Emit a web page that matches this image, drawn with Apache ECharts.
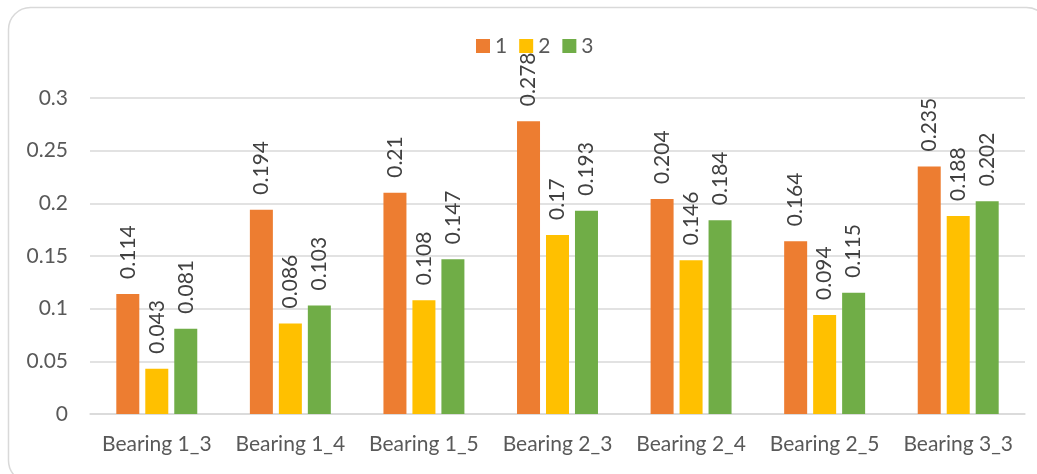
<!DOCTYPE html>
<html>
<head>
<meta charset="utf-8">
<script src="https://cdn.jsdelivr.net/npm/echarts@6/dist/echarts.min.js"></script>
<style>
  html, body { margin: 0; padding: 0; background: #fff; }
  #chart { width: 1037px; height: 474px; }
</style>
</head>
<body>
<div id="chart"></div>
<script>
// Bearing categories and the three measurement series
const categories = ['Bearing 1_3', 'Bearing 1_4', 'Bearing 1_5', 'Bearing 2_3', 'Bearing 2_4', 'Bearing 2_5', 'Bearing 3_3'];
const series1 = [0.114, 0.194, 0.21, 0.278, 0.204, 0.164, 0.235];
const series2 = [0.043, 0.086, 0.108, 0.17, 0.146, 0.094, 0.188];
const series3 = [0.081, 0.103, 0.147, 0.193, 0.184, 0.115, 0.202];
const seriesNames = ['1', '2', '3'];
const colors = ['#ED7D31', '#FFC000', '#70AD47'];

const font = 'Lato, Open Sans, sans-serif';
const fontSize = 21;

const chart = echarts.init(document.getElementById('chart'), null, { renderer: 'canvas' });

function barSeries(name, data, color) {
  return {
    name: name,
    type: 'bar',
    data: data,
    barWidth: 23,
    barGap: '26%',
    itemStyle: { color: color },
    label: {
      show: true,
      position: 'top',
      rotate: 90,
      align: 'left',
      verticalAlign: 'middle',
      distance: 15,
      color: '#404040',
      fontSize: fontSize,
      fontFamily: font,
      formatter: p => String(p.value)
    }
  };
}

chart.setOption({
  animation: false,
  color: colors,
  graphic: [{
    type: 'rect',
    shape: { x: 8.5, y: 7.5, width: 1040, height: 475, r: 22 },
    style: { fill: 'none', stroke: '#D9D9D9', lineWidth: 1.5 },
    silent: true,
    z: -1
  }],
  legend: {
    top: 35,
    left: 476,
    padding: 0,
    itemWidth: 14,
    itemHeight: 14,
    itemGap: 12,
    icon: 'rect',
    textStyle: { color: '#595959', fontSize: fontSize, fontFamily: font, lineHeight: 22 },
    data: seriesNames
  },
  grid: { left: 90, right: 12, top: 98, bottom: 60, containLabel: false },
  xAxis: {
    type: 'category',
    data: categories,
    axisLine: { show: true, lineStyle: { color: '#D9D9D9', width: 1.5 } },
    axisTick: { show: false },
    axisLabel: { color: '#595959', fontSize: fontSize, fontFamily: font, margin: 20, interval: 0 }
  },
  yAxis: {
    type: 'value',
    min: 0,
    max: 0.3,
    interval: 0.05,
    axisLine: { show: false },
    axisTick: { show: false },
    splitLine: { lineStyle: { color: '#D9D9D9', width: 1.5 } },
    axisLabel: {
      color: '#595959', fontSize: fontSize, fontFamily: font, margin: 22,
      formatter: v => String(+v.toFixed(2))
    }
  },
  series: [
    barSeries(seriesNames[0], series1, colors[0]),
    barSeries(seriesNames[1], series2, colors[1]),
    barSeries(seriesNames[2], series3, colors[2])
  ]
});
</script>
</body>
</html>
